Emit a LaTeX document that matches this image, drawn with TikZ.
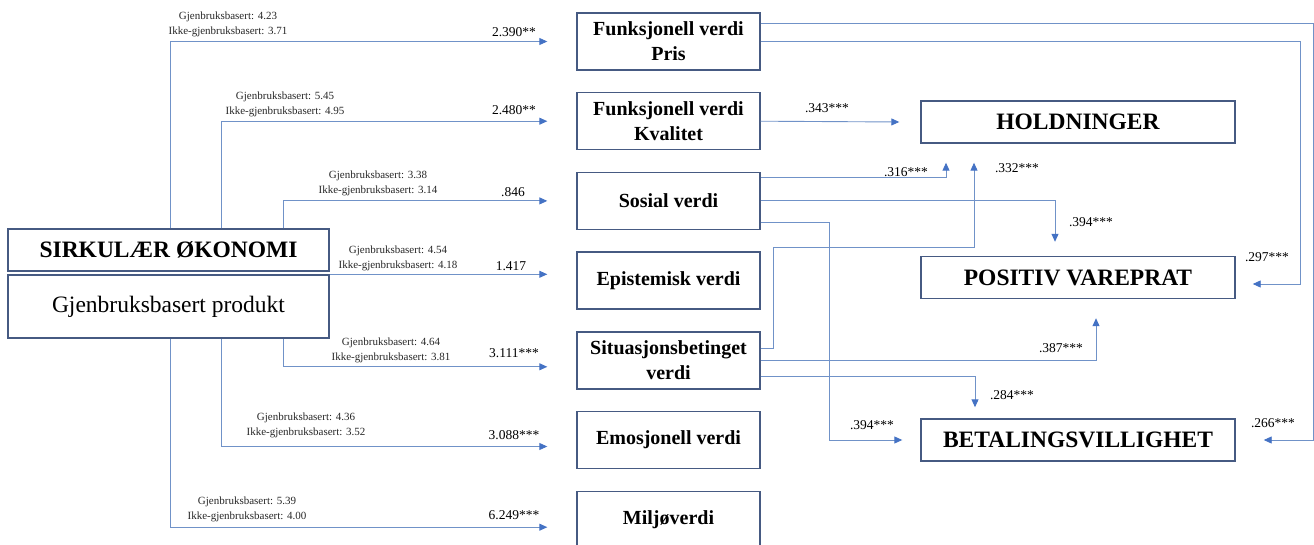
\documentclass[tikz,border=0pt]{standalone}
\usepackage{fontspec}
\setmainfont{Liberation Serif}
\usetikzlibrary{positioning,calc,arrows.meta}
\tikzset{>={Triangle[length=8pt,width=7pt]}}
\definecolor{linkblue}{RGB}{112,146,200}
\definecolor{tipblue}{RGB}{68,114,196}
\definecolor{boxline}{RGB}{70,90,130}

\begin{document}
\begin{tikzpicture}[
    x=1pt, y=-1pt,
    node distance=21.3pt,
    box/.style={draw=boxline, line width=1.4pt, align=center},
    value/.style={box, minimum width=183pt, minimum height=57pt, font=\fontsize{20}{25}\selectfont\bfseries},
    outcome/.style={box, minimum width=314pt, minimum height=42pt, font=\fontsize{23.5}{28}\selectfont\bfseries},
    link/.style={draw=linkblue, line width=0.9pt, -{Triangle[length=8pt,width=7pt,color=tipblue]}},
    means/.style={font=\fontsize{11}{15}\selectfont, align=center, text=black!85},
    coef/.style={font=\fontsize{13.5}{16}\selectfont}
]
\useasboundingbox (0,0) rectangle (1314,545);

\node[box, minimum width=321pt, minimum height=42pt, font=\fontsize{23.5}{28}\selectfont\bfseries] (sirk) at (168.5,250) {SIRKULÆR ØKONOMI};
\node[box, minimum width=321pt, minimum height=63pt, font=\fontsize{23.5}{28}\selectfont] (prod) at (168.5,306.5) {Gjenbruksbasert produkt};

\node[value] (pris) at (668.5,41.5) {Funksjonell verdi\\Pris};
\node[value, below=of pris] (kval) {Funksjonell verdi\\Kvalitet};
\node[value, below=of kval] (sosial) {Sosial verdi};
\node[value, below=of sosial] (epist) {Epistemisk verdi};
\node[value, below=of epist] (situ) {Situasjonsbetinget\\verdi};
\node[value, below=of situ] (emo) {Emosjonell verdi};
\node[value, below=of emo] (milj) {Miljøverdi};

\node[outcome] (hold) at (1078,122) {HOLDNINGER};
\node[outcome] (pos) at (1078,277.5) {POSITIV VAREPRAT};
\node[outcome] (bet) at (1078,440) {BETALINGSVILLIGHET};

\draw[link] (sirk.north -| 170,0) |- ([xshift=-29pt]pris.west);
\draw[link] (sirk.north -| 221,0) |- ([xshift=-29pt]kval.west);
\draw[link] (sirk.north -| 283,0) |- ([xshift=-29pt]sosial.west);
\draw[link] (prod.north east) -- ([xshift=-29pt]epist.west |- prod.north east);
\draw[link] (prod.south -| 283,0) |- ([shift={(-29pt,-6.5pt)}]situ.west);
\draw[link] (prod.south -| 221,0) |- ([shift={(-29pt,-6.5pt)}]emo.west);
\draw[link] (prod.south -| 170,0) |- ([shift={(-29pt,-7.5pt)}]milj.west);

\node[means] (m1) at (228,24) {Gjenbruksbasert: 4.23\\Ikke-gjenbruksbasert: 3.71};
\node[means] (m2) at (285,104) {Gjenbruksbasert: 5.45\\Ikke-gjenbruksbasert: 4.95};
\node[means] (m3) at (378,183.5) {Gjenbruksbasert: 3.38\\Ikke-gjenbruksbasert: 3.14};
\node[means] (m4) at (398,258) {Gjenbruksbasert: 4.54\\Ikke-gjenbruksbasert: 4.18};
\node[means] (m5) at (391,350) {Gjenbruksbasert: 4.64\\Ikke-gjenbruksbasert: 3.81};
\node[means] (m6) at (306,425.5) {Gjenbruksbasert: 4.36\\Ikke-gjenbruksbasert: 3.52};
\node[means] (m7) at (247,509) {Gjenbruksbasert: 5.39\\Ikke-gjenbruksbasert: 4.00};

\node[coef] (c1) at (514,32) {2.390**};
\node[coef] (c2) at (514,110) {2.480**};
\node[coef] (c3) at (513,192) {.846};
\node[coef] (c4) at (511,266) {1.417};
\node[coef] (c5) at (514,353) {3.111***};
\node[coef] (c6) at (514,435) {3.088***};
\node[coef] (c7) at (514,515) {6.249***};

\draw[link] ([yshift=18.5pt]pris.east) -| ([xshift=78pt]bet.east) -- ([xshift=28pt]bet.east);
\draw[link] (pris.east) -| ([shift={(65pt,-6.5pt)}]pos.east) -- ([shift={(17pt,-6.5pt)}]pos.east);
\draw[link] (kval.east) -- ([xshift=-21pt]hold.west);
\draw[link] ([yshift=23.5pt]sosial.east) -| ([shift={(-132pt,-19pt)}]hold.south);
\draw[link] (sosial.east) -| ([shift={(-23pt,14pt)}]pos.north);
\draw[link] ([yshift=-21.5pt]sosial.east) -| ([xshift=-91pt]bet.west) -- ([xshift=-18pt]bet.west);
\draw[link] ([yshift=11.5pt]situ.east) -- ++(13,0) |- ([shift={(-104pt,-104pt)}]hold.south) -- ([shift={(-104pt,-19pt)}]hold.south);
\draw[link] (situ.east) -| ([shift={(18pt,-19pt)}]pos.south);
\draw[link] ([yshift=-16.5pt]situ.east) -| ([shift={(-103pt,11pt)}]bet.north);

\node[coef] (r1) at (827,108) {.343***};
\node[coef] (r2) at (906,172) {.316***};
\node[coef] (r3) at (1017,168) {.332***};
\node[coef] (r4) at (1091,222) {.394***};
\node[coef] (r5) at (1267,257) {.297***};
\node[coef] (r6) at (1061,348) {.387***};
\node[coef] (r7) at (1012,395) {.284***};
\node[coef] (r8) at (872,425) {.394***};
\node[coef] (r9) at (1273,423) {.266***};
\end{tikzpicture}
\end{document}
